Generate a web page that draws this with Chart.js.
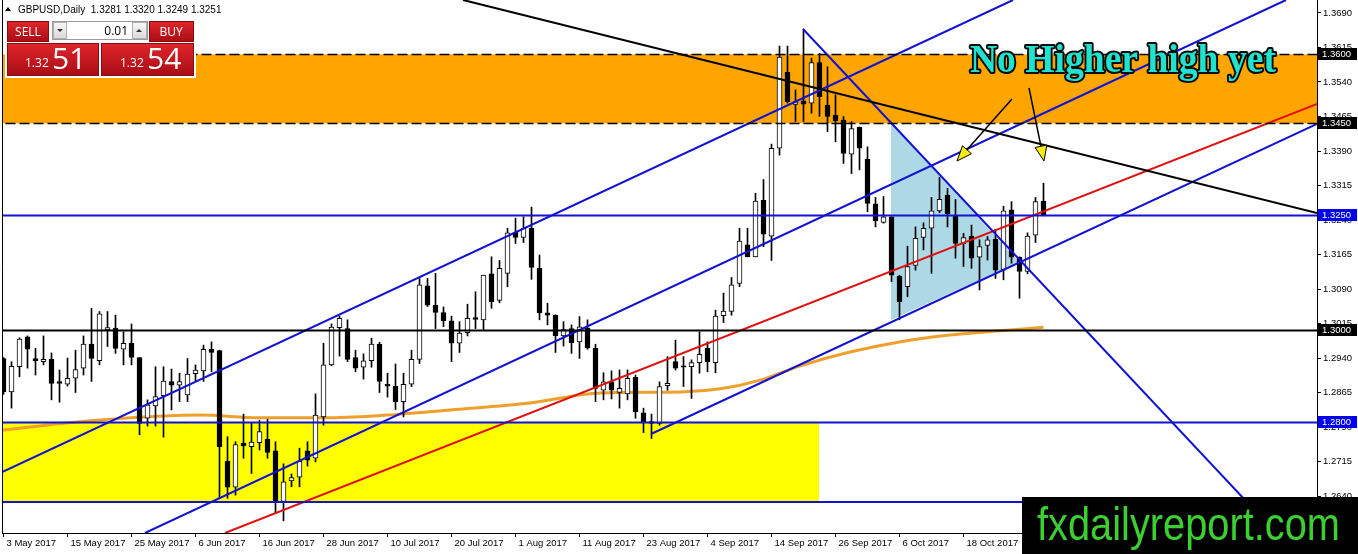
<!DOCTYPE html>
<html>
<head>
<meta charset="utf-8">
<title>GBPUSD Daily</title>
<script src="https://cdn.jsdelivr.net/npm/chart.js@4.4.1/dist/chart.umd.min.js"></script>
<style>
    html, body { margin: 0; padding: 0; background: #fff; overflow: hidden; }
    canvas { display: block; }
</style>
</head>
<body>
<canvas id="fxChart" width="1358" height="554"></canvas>
<script>
// daily candles, 3 May 2017 .. 1 Nov 2017 (bar index 0..130)
const opens = [
    1.2939, 1.2866, 1.2921, 1.2986, 1.2939, 1.2932, 1.2937, 1.2889, 1.2883, 1.2896,
    1.2918, 1.2970, 1.2934, 1.3001, 1.3005, 1.2959, 1.2972, 1.2941, 1.2809, 1.2836,
    1.2858, 1.2889, 1.2881, 1.2860, 1.2906, 1.2912, 1.2959, 1.2956, 1.2716, 1.2659,
    1.2755, 1.2747, 1.2756, 1.2763, 1.2738, 1.2628, 1.2673, 1.2681, 1.2738, 1.2722,
    1.2812, 1.2925, 1.3006, 1.3004, 1.2941, 1.2920, 1.2934, 1.2970, 1.2883, 1.2879,
    1.2845, 1.2883, 1.2937, 1.3097, 1.3055, 1.3039, 1.3021, 1.2972, 1.2995, 1.3028,
    1.3023, 1.3123, 1.3065, 1.3124, 1.3214, 1.3202, 1.3222, 1.3135, 1.3038, 1.3033,
    1.2988, 1.3004, 1.2975, 1.3005, 1.2961, 1.2870, 1.2888, 1.2865, 1.2862, 1.2898,
    1.2821, 1.2802, 1.2798, 1.2880, 1.2932, 1.2923, 1.2921, 1.2930, 1.2961, 1.2930,
    1.3032, 1.3041, 1.3102, 1.3186, 1.3160, 1.3283, 1.3205, 1.3396, 1.3561, 1.3491,
    1.3499, 1.3494, 1.3582, 1.3490, 1.3468, 1.3457, 1.3383, 1.3442, 1.3372, 1.3275,
    1.3235, 1.3247, 1.3118, 1.3095, 1.3141, 1.3202, 1.3222, 1.3260, 1.3294, 1.3249,
    1.3188, 1.3205, 1.3159, 1.3185, 1.3198, 1.3131, 1.3262, 1.3159, 1.3128, 1.3207,
    1.3281
];
const highs = [
    1.2941, 1.2932, 1.2984, 1.2988, 1.2961, 1.2988, 1.2951, 1.2914, 1.2940, 1.2957,
    1.2988, 1.3048, 1.3041, 1.3041, 1.3033, 1.2997, 1.3014, 1.2941, 1.2849, 1.2921,
    1.2921, 1.2916, 1.2907, 1.2939, 1.2925, 1.2968, 1.2975, 1.2957, 1.2769, 1.2758,
    1.2818, 1.2798, 1.2805, 1.2807, 1.2758, 1.2710, 1.2688, 1.2744, 1.2758, 1.2862,
    1.2972, 1.3014, 1.3031, 1.3023, 1.2957, 1.2949, 1.2983, 1.2974, 1.2907, 1.2927,
    1.2907, 1.2957, 1.3113, 1.3113, 1.3124, 1.3051, 1.3031, 1.3019, 1.3057, 1.3084,
    1.3120, 1.3160, 1.3152, 1.3222, 1.3244, 1.3247, 1.3268, 1.3164, 1.3059, 1.3034,
    1.3019, 1.3012, 1.3030, 1.3023, 1.2970, 1.2908, 1.2912, 1.2914, 1.2914, 1.2903,
    1.2831, 1.2818, 1.2888, 1.2943, 1.2979, 1.2943, 1.2936, 1.2997, 1.2975, 1.3044,
    1.3081, 1.3115, 1.3222, 1.3222, 1.3298, 1.3328, 1.3405, 1.3618, 1.3618, 1.3523,
    1.3655, 1.3592, 1.3602, 1.3573, 1.3512, 1.3465, 1.3454, 1.3442, 1.3399, 1.3289,
    1.3291, 1.3247, 1.3120, 1.3183, 1.3225, 1.3234, 1.3289, 1.3333, 1.3309, 1.3285,
    1.3211, 1.3229, 1.3197, 1.3204, 1.3220, 1.3270, 1.3280, 1.3160, 1.3212, 1.3289,
    1.3320
];
const lows = [
    1.2861, 1.2831, 1.2899, 1.2918, 1.2903, 1.2925, 1.2849, 1.2844, 1.2879, 1.2865,
    1.2903, 1.2889, 1.2925, 1.2965, 1.2950, 1.2925, 1.2925, 1.2773, 1.2792, 1.2792,
    1.2768, 1.2827, 1.2845, 1.2845, 1.2889, 1.2889, 1.2910, 1.2635, 1.2635, 1.2642,
    1.2722, 1.2689, 1.2740, 1.2722, 1.2602, 1.2586, 1.2660, 1.2660, 1.2705, 1.2714,
    1.2794, 1.2923, 1.2944, 1.2932, 1.2910, 1.2894, 1.2920, 1.2865, 1.2855, 1.2828,
    1.2812, 1.2878, 1.2928, 1.3052, 1.3004, 1.3008, 1.2932, 1.2952, 1.2988, 1.3004,
    1.3002, 1.3048, 1.3060, 1.3095, 1.3189, 1.3191, 1.3111, 1.3023, 1.3012, 1.2952,
    1.2966, 1.2950, 1.2939, 1.2959, 1.2845, 1.2849, 1.2851, 1.2831, 1.2849, 1.2809,
    1.2778, 1.2765, 1.2794, 1.2870, 1.2914, 1.2878, 1.2852, 1.2907, 1.2910, 1.2908,
    1.3017, 1.3033, 1.3095, 1.3160, 1.3160, 1.3182, 1.3152, 1.3381, 1.3494, 1.3454,
    1.3454, 1.3472, 1.3465, 1.3432, 1.3410, 1.3363, 1.3341, 1.3349, 1.3258, 1.3225,
    1.3233, 1.3106, 1.3023, 1.3073, 1.3131, 1.3175, 1.3124, 1.3256, 1.3225, 1.3157,
    1.3139, 1.3135, 1.3088, 1.3153, 1.3113, 1.3110, 1.3146, 1.3070, 1.3123, 1.3191,
    1.3249
];
const closes = [
    1.2867, 1.2922, 1.2981, 1.2959, 1.2934, 1.2937, 1.2885, 1.2885, 1.2896, 1.2915,
    1.2970, 1.2939, 1.3036, 1.3006, 1.2961, 1.2972, 1.2941, 1.2798, 1.2838, 1.2856,
    1.2890, 1.2881, 1.2889, 1.2905, 1.2914, 1.2959, 1.2952, 1.2747, 1.2659, 1.2752,
    1.2749, 1.2757, 1.2780, 1.2735, 1.2628, 1.2671, 1.2680, 1.2716, 1.2718, 1.2816,
    1.2925, 1.3007, 1.3026, 1.2937, 1.2918, 1.2934, 1.2970, 1.2889, 1.2879, 1.2845,
    1.2883, 1.2937, 1.3099, 1.3055, 1.3039, 1.3021, 1.2972, 1.2994, 1.3026, 1.3024,
    1.3120, 1.3062, 1.3135, 1.3212, 1.3202, 1.3222, 1.3137, 1.3038, 1.3033, 1.2988,
    1.3002, 1.2973, 1.3008, 1.2962, 1.2874, 1.2888, 1.2870, 1.2874, 1.2896, 1.2823,
    1.2799, 1.2798, 1.2878, 1.2885, 1.2918, 1.2920, 1.2930, 1.2948, 1.2932, 1.3031,
    1.3042, 1.3099, 1.3194, 1.3160, 1.3281, 1.3209, 1.3396, 1.3594, 1.3497, 1.3497,
    1.3492, 1.3582, 1.3508, 1.3465, 1.3456, 1.3385, 1.3439, 1.3396, 1.3276, 1.3238,
    1.3247, 1.3120, 1.3062, 1.3139, 1.3200, 1.3222, 1.3260, 1.3285, 1.3253, 1.3189,
    1.3202, 1.3157, 1.3182, 1.3197, 1.3131, 1.3260, 1.3159, 1.3128, 1.3205, 1.3280,
    1.3251
];

const tickBars = [0, 8, 16, 24, 32, 40, 48, 56, 64, 72, 80, 88, 96, 104, 112, 120];
const tickLabels = ['3 May 2017', '15 May 2017', '25 May 2017', '6 Jun 2017', '16 Jun 2017', '28 Jun 2017',
    '10 Jul 2017', '20 Jul 2017', '1 Aug 2017', '11 Aug 2017', '23 Aug 2017', '4 Sep 2017',
    '14 Sep 2017', '26 Sep 2017', '6 Oct 2017', '18 Oct 2017'];
const priceTicks = [1.2640, 1.2715, 1.2790, 1.2865, 1.2940, 1.3015, 1.3090, 1.3165,
    1.3240, 1.3315, 1.3390, 1.3465, 1.3540, 1.3615, 1.3690];

// moving average read at a few points along the curve
const maBars = [-0.44, 12, 24.6, 32, 40.8, 49.6, 55.8, 65.8, 74.6, 84.6, 89.6, 94.6, 99.6, 105.8, 112, 118.3, 124.6, 130];
const maValues = [1.2783, 1.2805, 1.2816, 1.2810, 1.2810, 1.2818, 1.2827, 1.2842, 1.2864, 1.2866,
    1.2873, 1.2892, 1.2923, 1.2953, 1.2975, 1.2990, 1.2999, 1.3007];

// trend lines: [bar, price] end points
const blackTrend = [[57.44, 1.37183], [164.19, 1.32552]];
const upperChannel = [[-0.44, 1.26900], [126.19, 1.37183]];
const midChannel = [[17.69, 1.25596], [160.31, 1.37183]];
const lowerChannel = [[80.94, 1.27748], [164.19, 1.34487]];
const fallingLine = [[99.94, 1.36552], [159.06, 1.25596]];
const redTrend = [[27.69, 1.25596], [164.19, 1.34922]];

const blueLevels = [1.3250, 1.2800, 1.2627];
const blackLevels = [1.3000];
const resistanceZone = [1.3450, 1.3600];
const supportBoxBars = [-1, 101.94];
const supportBoxPrices = [1.2627, 1.2800];
const wedgeShade = [[110.94, 1.34509], [110.94, 1.30226], [126.94, 1.31487]];

const tagLevels = [1.3600, 1.3450, 1.3250, 1.3000, 1.2800];
const tagKinds = ['black', 'black', 'blue', 'black', 'blue'];

const headerText = 'GBPUSD,Daily  1.3281 1.3320 1.3249 1.3251';
const noteText = 'No Higher high yet';
const noteAnchor = [120.8, 1.35617];
const arrowStarts = [[126.06, 1.35030], [128.19, 1.35270]];
const arrowTips = [[119.19, 1.33683], [130.06, 1.33683]];
const sitePrice = ['1.32', '51', '1.32', '54'];

const X_MIN = -0.1875, X_MAX = 164.1875;
const Y_MIN = 1.255957, Y_MAX = 1.371826;

const lineSet = (pts, color, width, dash) => ({
    type: 'line',
    data: pts.map(p => ({ x: p[0], y: p[1] })),
    borderColor: color,
    borderWidth: width,
    borderDash: dash || [],
    pointRadius: 0,
    fill: false,
    order: 1
});

const datasets = [];
datasets.push({
    type: 'line',
    data: maBars.map((b, i) => ({ x: b, y: maValues[i] })),
    borderColor: '#efa02c',
    borderWidth: 3,
    pointRadius: 0,
    cubicInterpolationMode: 'monotone',
    order: 8
});
datasets.push({
    type: 'bar',
    data: opens.map((o, i) => ({ x: i, y: [lows[i], highs[i]] })),
    backgroundColor: '#000',
    barThickness: 1,
    grouped: false,
    order: 6
});
datasets.push({
    type: 'bar',
    data: opens.map((o, i) => ({ x: i, y: [o, closes[i]] })),
    backgroundColor: c => closes[c.dataIndex] >= opens[c.dataIndex] ? '#fff' : '#000',
    borderColor: '#000',
    borderWidth: 1,
    borderSkipped: false,
    barThickness: 5,
    grouped: false,
    order: 5
});
resistanceZone.forEach(p => datasets.push(lineSet([[-5, p], [170, p]], '#000', 1.5, [10, 4])));
blueLevels.forEach(p => datasets.push(lineSet([[-5, p], [170, p]], '#1212d2', 2)));
blackLevels.forEach(p => datasets.push(lineSet([[-5, p], [170, p]], '#000', 2)));
datasets.push(lineSet(blackTrend, '#000', 2));
datasets.push(lineSet(upperChannel, '#1212d2', 2));
datasets.push(lineSet(midChannel, '#1212d2', 2));
datasets.push(lineSet(lowerChannel, '#1212d2', 2));
datasets.push(lineSet(fallingLine, '#1212d2', 2));
datasets.push(lineSet(redTrend, '#e01010', 2));

const zonesPlugin = {
    id: 'zones',
    beforeDatasetsDraw(chart) {
        const { ctx, chartArea: a, scales: { x, y } } = chart;
        ctx.save();
        ctx.beginPath();
        ctx.rect(a.left, a.top, a.right - a.left, a.bottom - a.top);
        ctx.clip();

        const zt = y.getPixelForValue(resistanceZone[1]);
        const zb = y.getPixelForValue(resistanceZone[0]);
        ctx.fillStyle = '#ffa500';
        ctx.fillRect(a.left, zt, a.right - a.left, zb - zt);

        const bl = x.getPixelForValue(supportBoxBars[0]);
        const br = x.getPixelForValue(supportBoxBars[1]);
        const bt = y.getPixelForValue(supportBoxPrices[1]);
        const bb = y.getPixelForValue(supportBoxPrices[0]);
        ctx.fillStyle = '#ffff00';
        ctx.fillRect(bl, bt, br - bl, bb - bt);

        ctx.fillStyle = '#add8e6';
        ctx.beginPath();
        wedgeShade.forEach((p, i) => {
            const px = x.getPixelForValue(p[0]), py = y.getPixelForValue(p[1]);
            if (i === 0) ctx.moveTo(px, py); else ctx.lineTo(px, py);
        });
        ctx.closePath();
        ctx.fill();
        ctx.restore();
    }
};

const drawArrow = (ctx, x1, y1, x2, y2) => {
    const ang = Math.atan2(y2 - y1, x2 - x1);
    const len = 15, half = 6;
    const bx = x2 - Math.cos(ang) * len, by = y2 - Math.sin(ang) * len;
    ctx.strokeStyle = '#000';
    ctx.lineWidth = 1.5;
    ctx.beginPath();
    ctx.moveTo(x1, y1);
    ctx.lineTo(bx, by);
    ctx.stroke();
    ctx.beginPath();
    ctx.moveTo(x2, y2);
    ctx.lineTo(bx + Math.sin(ang) * half, by - Math.cos(ang) * half);
    ctx.lineTo(bx - Math.sin(ang) * half, by + Math.cos(ang) * half);
    ctx.closePath();
    ctx.fillStyle = '#f6ec10';
    ctx.fill();
    ctx.lineWidth = 1;
    ctx.stroke();
};

const notesPlugin = {
    id: 'notes',
    afterDatasetsDraw(chart) {
        const { ctx, scales: { x, y } } = chart;
        ctx.save();
        arrowStarts.forEach((s, i) => {
            drawArrow(ctx, x.getPixelForValue(s[0]), y.getPixelForValue(s[1]),
                x.getPixelForValue(arrowTips[i][0]), y.getPixelForValue(arrowTips[i][1]));
        });
        const tx = x.getPixelForValue(noteAnchor[0]);
        const ty = y.getPixelForValue(noteAnchor[1]);
        ctx.font = 'bold 39px "Liberation Serif", serif';
        const w = ctx.measureText(noteText).width;
        ctx.translate(tx, ty);
        ctx.scale(306 / w, 1);
        ctx.lineJoin = 'round';
        ctx.lineWidth = 4;
        ctx.strokeStyle = '#0a0a0a';
        ctx.strokeText(noteText, 0, 0);
        ctx.fillStyle = '#1fe2cf';
        ctx.fillText(noteText, 0, 0);
        ctx.restore();
    }
};

const redBox = (ctx, x, y, w, h) => {
    const g = ctx.createLinearGradient(0, y, 0, y + h);
    g.addColorStop(0, '#e0262c');
    g.addColorStop(1, '#a80c14');
    ctx.fillStyle = g;
    ctx.fillRect(x, y, w, h);
    ctx.strokeStyle = '#8a0a10';
    ctx.lineWidth = 1;
    ctx.strokeRect(x + 0.5, y + 0.5, w - 1, h - 1);
};

const chromePlugin = {
    id: 'chrome',
    afterDraw(chart) {
        const { ctx, chartArea: a, scales: { y } } = chart;
        ctx.save();

        // left frame
        ctx.strokeStyle = '#000';
        ctx.lineWidth = 1;
        ctx.beginPath();
        ctx.moveTo(a.left + 0.5, 0);
        ctx.lineTo(a.left + 0.5, a.bottom);
        ctx.stroke();

        // price tags on the right axis
        ctx.font = '9.5px "Liberation Sans", sans-serif';
        ctx.textBaseline = 'middle';
        ctx.textAlign = 'left';
        tagLevels.forEach((p, i) => {
            const py = Math.round(y.getPixelForValue(p));
            ctx.fillStyle = tagKinds[i] === 'blue' ? '#0000f0' : '#000';
            ctx.fillRect(a.right + 1, py - 6, 39, 12);
            ctx.fillStyle = '#fff';
            ctx.fillText(p.toFixed(4), a.right + 5, py + 0.5);
        });

        // header
        ctx.fillStyle = '#000';
        ctx.beginPath();
        ctx.moveTo(5, 11); ctx.lineTo(11, 11); ctx.lineTo(8, 7); ctx.closePath();
        ctx.fill();
        ctx.font = '10px "Liberation Sans", sans-serif';
        ctx.textBaseline = 'alphabetic';
        ctx.fillText(headerText, 18, 13);

        // one-click trading panel
        ctx.fillStyle = '#fff';
        ctx.fillRect(5, 19, 191, 59);
        redBox(ctx, 7, 21, 42, 21);
        redBox(ctx, 149, 21, 45, 21);
        redBox(ctx, 7, 43, 92, 33);
        redBox(ctx, 101, 43, 93, 33);
        ctx.fillStyle = '#fff';
        ctx.fillRect(52, 21, 96, 19);
        ctx.strokeStyle = '#9a9a9a';
        ctx.strokeRect(52.5, 21.5, 95, 18);
        [[53, 14], [132, 15]].forEach(b => {
            const g = ctx.createLinearGradient(0, 22, 0, 39);
            g.addColorStop(0, '#fafafa');
            g.addColorStop(1, '#d8d8d8');
            ctx.fillStyle = g;
            ctx.fillRect(b[0], 22, b[1], 17);
            ctx.strokeStyle = '#b0b0b0';
            ctx.strokeRect(b[0] + 0.5, 22.5, b[1] - 1, 16);
        });
        ctx.fillStyle = '#333';
        ctx.beginPath(); ctx.moveTo(57, 29); ctx.lineTo(63, 29); ctx.lineTo(60, 32); ctx.closePath(); ctx.fill();
        ctx.beginPath(); ctx.moveTo(136, 32); ctx.lineTo(142, 32); ctx.lineTo(139, 29); ctx.closePath(); ctx.fill();
        ctx.fillStyle = '#000';
        ctx.font = '12px "Open Sans", sans-serif';
        ctx.textAlign = 'right';
        ctx.fillText('0.01', 128, 35);
        ctx.fillStyle = '#fff';
        ctx.textAlign = 'center';
        ctx.font = '12px "Open Sans", sans-serif';
        ctx.fillText('SELL', 28, 36);
        ctx.fillText('BUY', 171, 36);
        ctx.textAlign = 'left';
        ctx.font = '12px "Open Sans", sans-serif';
        ctx.fillText(sitePrice[0], 25, 67);
        ctx.fillText(sitePrice[2], 120, 67);
        ctx.font = '30px "Open Sans", sans-serif';
        ctx.fillText(sitePrice[1], 52, 69);
        ctx.fillText(sitePrice[3], 147, 69);

        // watermark
        ctx.fillStyle = '#000';
        ctx.fillRect(1022, 497, 336, 57);
        ctx.font = '46px "Liberation Sans", Arial, sans-serif';
        const site = 'fxdailyreport.com';
        const sw = ctx.measureText(site).width;
        ctx.translate(1037, 540);
        ctx.scale(303 / sw, 1);
        ctx.fillStyle = '#3ccf32';
        ctx.fillText(site, 0, 0);
        ctx.restore();
    }
};

new Chart(document.getElementById('fxChart'), {
    type: 'bar',
    data: { datasets },
    options: {
        responsive: false,
        animation: false,
        devicePixelRatio: 1,
        events: [],
        layout: { padding: { left: 2, top: 0, right: 0, bottom: 0 } },
        plugins: { legend: { display: false }, tooltip: { enabled: false } },
        scales: {
            x: {
                type: 'linear',
                min: X_MIN,
                max: X_MAX,
                offset: false,
                afterBuildTicks: s => { s.ticks = tickBars.map(v => ({ value: v })); },
                afterFit: s => { s.height = 21; s.paddingLeft = 0; s.paddingRight = 0; },
                grid: { drawOnChartArea: false, drawTicks: true, tickLength: 4, color: '#000', offset: false },
                border: { display: true, color: '#000', width: 1 },
                ticks: {
                    autoSkip: false,
                    maxRotation: 0,
                    minRotation: 0,
                    align: 'start',
                    labelOffset: 3,
                    padding: 1,
                    color: '#000',
                    font: { family: '"Liberation Sans", sans-serif', size: 9.5 },
                    callback: (v, i) => tickLabels[i]
                }
            },
            y: {
                type: 'linear',
                position: 'right',
                min: Y_MIN,
                max: Y_MAX,
                afterBuildTicks: s => { s.ticks = priceTicks.map(v => ({ value: v })); },
                afterFit: s => { s.width = 41; s.paddingTop = 0; s.paddingBottom = 0; },
                grid: { drawOnChartArea: false, drawTicks: true, tickLength: 4, color: '#000' },
                border: { display: true, color: '#000', width: 1 },
                ticks: {
                    padding: 2,
                    color: '#000',
                    font: { family: '"Liberation Sans", sans-serif', size: 9.5 },
                    callback: v => v.toFixed(4)
                }
            }
        }
    },
    plugins: [zonesPlugin, notesPlugin, chromePlugin]
});
</script>
</body>
</html>
